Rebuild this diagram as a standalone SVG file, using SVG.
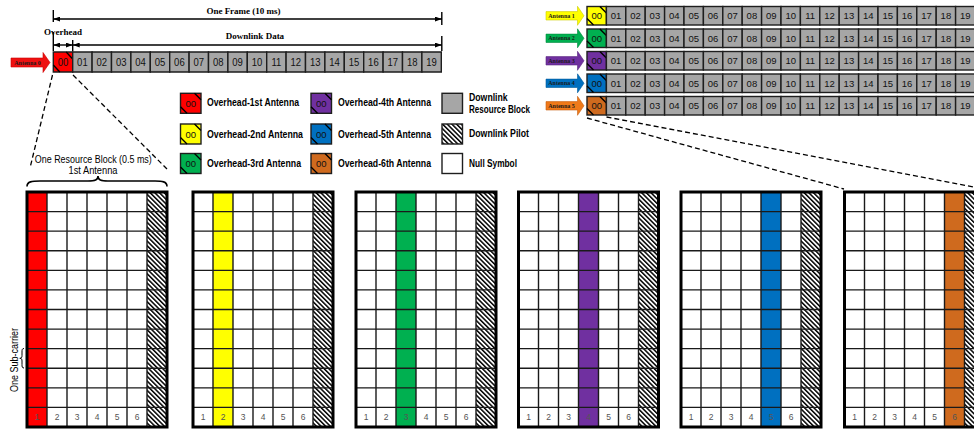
<svg xmlns="http://www.w3.org/2000/svg" xmlns:xlink="http://www.w3.org/1999/xlink" width="974" height="434" viewBox="0 0 974 434">
<style>
.cell{fill:#a6a6a6;stroke:#1e1e1e;stroke-width:1.4}
.ct{font-family:"Liberation Sans",Arial,sans-serif;font-size:9.5px;fill:#111;text-anchor:middle}
.tb{font-family:"Liberation Serif","Times New Roman",serif;font-weight:bold;fill:#000}
.at{font-family:"Liberation Serif","Times New Roman",serif;font-weight:bold;font-size:6px;fill:#1a1a1a;text-anchor:middle}
.lg{font-family:"Liberation Sans",Arial,sans-serif;font-weight:bold;font-size:10.2px;fill:#000}
.sn{font-family:"Liberation Sans",Arial,sans-serif;font-size:10.5px;fill:#000}
.num{font-family:"Liberation Sans",Arial,sans-serif;font-size:8.5px;fill:#555;text-anchor:middle}
.dash{stroke:#000;stroke-width:1.3;stroke-dasharray:5 3;fill:none}
.corner{stroke:#000;stroke-width:1.4;fill:none}
.dim{stroke:#000;stroke-width:1.4;fill:none}
.ohbox{stroke:#1e1e1e;stroke-width:1.4}
</style>
<defs>
<marker id="ah" viewBox="0 0 7 5" refX="7" refY="2.5" markerWidth="7" markerHeight="5" markerUnits="userSpaceOnUse" orient="auto-start-reverse"><path d="M0,0 L7,2.5 L0,5 Z" fill="#000"/></marker>
<pattern id="hatch" patternUnits="userSpaceOnUse" width="3.3" height="3.3" patternTransform="rotate(-45)"><rect width="3.3" height="3.3" fill="#fff"/><rect width="1.5" height="3.3" fill="#000"/></pattern>
<g id="cells">
<rect class="cell" x="19.4" y="0" width="19.4" height="18.5"/><rect class="cell" x="38.8" y="0" width="19.4" height="18.5"/><rect class="cell" x="58.2" y="0" width="19.4" height="18.5"/><rect class="cell" x="77.6" y="0" width="19.4" height="18.5"/><rect class="cell" x="97" y="0" width="19.4" height="18.5"/><rect class="cell" x="116.4" y="0" width="19.4" height="18.5"/><rect class="cell" x="135.8" y="0" width="19.4" height="18.5"/><rect class="cell" x="155.2" y="0" width="19.4" height="18.5"/><rect class="cell" x="174.6" y="0" width="19.4" height="18.5"/><rect class="cell" x="194" y="0" width="19.4" height="18.5"/><rect class="cell" x="213.4" y="0" width="19.4" height="18.5"/><rect class="cell" x="232.8" y="0" width="19.4" height="18.5"/><rect class="cell" x="252.2" y="0" width="19.4" height="18.5"/><rect class="cell" x="271.6" y="0" width="19.4" height="18.5"/><rect class="cell" x="291" y="0" width="19.4" height="18.5"/><rect class="cell" x="310.4" y="0" width="19.4" height="18.5"/><rect class="cell" x="329.8" y="0" width="19.4" height="18.5"/><rect class="cell" x="349.2" y="0" width="19.4" height="18.5"/><rect class="cell" x="368.6" y="0" width="19.4" height="18.5"/>
<text class="ct" x="29.1" y="12.7">01</text><text class="ct" x="48.5" y="12.7">02</text><text class="ct" x="67.9" y="12.7">03</text><text class="ct" x="87.3" y="12.7">04</text><text class="ct" x="106.7" y="12.7">05</text><text class="ct" x="126.1" y="12.7">06</text><text class="ct" x="145.5" y="12.7">07</text><text class="ct" x="164.9" y="12.7">08</text><text class="ct" x="184.3" y="12.7">09</text><text class="ct" x="203.7" y="12.7">10</text><text class="ct" x="223.1" y="12.7">11</text><text class="ct" x="242.5" y="12.7">12</text><text class="ct" x="261.9" y="12.7">13</text><text class="ct" x="281.3" y="12.7">14</text><text class="ct" x="300.7" y="12.7">15</text><text class="ct" x="320.1" y="12.7">16</text><text class="ct" x="339.5" y="12.7">17</text><text class="ct" x="358.9" y="12.7">18</text><text class="ct" x="378.3" y="12.7">19</text>
</g>
<g id="ohmark">
<path class="corner" d="M12.9,0 L19.4,6.5 M0,12 L6.5,18.5"/>
<text class="ct" x="9.7" y="12.7">00</text>
</g>
<g id="lgmark">
<path class="corner" d="M14,0 L20.5,6.5 M0,13.5 L6.5,20"/>
<text class="ct" x="10.25" y="13.5">00</text>
</g>
<g id="gridbg">
<rect width="140" height="235" fill="#fff"/>
<rect x="120" width="20" height="235" fill="url(#hatch)"/>
</g>
<g id="gridfg">
<path d="M0,19.58 H140 M0,39.17 H140 M0,58.75 H140 M0,78.33 H140 M0,97.92 H140 M0,117.5 H140 M0,137.08 H140 M0,156.67 H140 M0,176.25 H140 M0,195.83 H140 M0,215.42 H140 M20,0 V235 M40,0 V235 M60,0 V235 M80,0 V235 M100,0 V235 M120,0 V235" stroke="#1a1a1a" stroke-width="1.4" fill="none"/>
<text class="num" x="10" y="228.3">1</text><text class="num" x="30" y="228.3">2</text><text class="num" x="50" y="228.3">3</text><text class="num" x="70" y="228.3">4</text><text class="num" x="90" y="228.3">5</text><text class="num" x="110" y="228.3">6</text>
<rect width="140" height="235" fill="none" stroke="#000" stroke-width="3"/>
</g>
</defs>
<rect width="974" height="434" fill="#fff"/>

<!-- Frame dimension annotations -->
<g id="frame-dimensions">
<path class="dim" d="M53.3,10 V22 M53.3,32 V51 M72.7,40 V51 M441.8,12 V25 M441.8,36 V51"/>
<line class="dim" x1="53.3" y1="19" x2="441.8" y2="19" marker-start="url(#ah)" marker-end="url(#ah)"/>
<line class="dim" x1="53.3" y1="45" x2="72.7" y2="45" marker-start="url(#ah)" marker-end="url(#ah)"/>
<line class="dim" x1="72.7" y1="45" x2="441.8" y2="45" marker-start="url(#ah)" marker-end="url(#ah)"/>
<text class="tb" x="243.5" y="13.5" font-size="9" text-anchor="middle">One Frame (10 ms)</text>
<text class="tb" x="63" y="34.5" font-size="9" text-anchor="middle">Overhead</text>
<text class="tb" x="255" y="38.5" font-size="9" text-anchor="middle">Downlink Data</text>
</g>

<!-- Antenna 0 frame -->
<g id="antenna0">
<path d="M11,58 L43,58 L43,52.5 L50,62.5 L43,72.5 L43,67 L11,67 Z" fill="#ee1111" stroke="#c00" stroke-width="0.6"/>
<text class="at" x="27.5" y="64.5">Antenna 0</text>
<g transform="translate(53.3,52) scale(1,1.081)">
<rect class="ohbox" width="19.4" height="18.5" fill="#ff0000"/>
<use xlink:href="#ohmark"/>
<use xlink:href="#cells"/>
</g>
</g>

<!-- Antennas 1-5 frames -->
<g id="antenna1">
<path d="M546,11.6 H577.5 V6.3 L584,15.8 L577.5,25.3 V20 H546 Z" fill="#ffff00" stroke="#cc0" stroke-width="0.6"/>
<text class="at" x="561.5" y="17.8">Antenna 1</text>
<g transform="translate(587,6.5)"><rect class="ohbox" width="19.4" height="18.5" fill="#ffff00"/><use xlink:href="#ohmark"/><use xlink:href="#cells"/></g>
</g>
<g id="antenna2">
<path d="M546,34.1 H577.5 V28.8 L584,38.3 L577.5,47.8 V42.5 H546 Z" fill="#00b050" stroke="#008a3e" stroke-width="0.6"/>
<text class="at" x="561.5" y="40.3">Antenna 2</text>
<g transform="translate(587,29)"><rect class="ohbox" width="19.4" height="18.5" fill="#00b050"/><use xlink:href="#ohmark"/><use xlink:href="#cells"/></g>
</g>
<g id="antenna3">
<path d="M546,56.6 H577.5 V51.3 L584,60.8 L577.5,70.3 V65 H546 Z" fill="#7030a0" stroke="#5a2680" stroke-width="0.6"/>
<text class="at" x="561.5" y="62.8">Antenna 3</text>
<g transform="translate(587,51.5)"><rect class="ohbox" width="19.4" height="18.5" fill="#7030a0"/><use xlink:href="#ohmark"/><use xlink:href="#cells"/></g>
</g>
<g id="antenna4">
<path d="M546,79.1 H577.5 V73.8 L584,83.3 L577.5,92.8 V87.5 H546 Z" fill="#0070c0" stroke="#005a9a" stroke-width="0.6"/>
<text class="at" x="561.5" y="85.3">Antenna 4</text>
<g transform="translate(587,74)"><rect class="ohbox" width="19.4" height="18.5" fill="#0070c0"/><use xlink:href="#ohmark"/><use xlink:href="#cells"/></g>
</g>
<g id="antenna5">
<path d="M546,101.6 H577.5 V96.3 L584,105.8 L577.5,115.3 V110 H546 Z" fill="#ef7a1a" stroke="#c86010" stroke-width="0.6"/>
<text class="at" x="561.5" y="107.8">Antenna 5</text>
<g transform="translate(587,96.5)"><rect class="ohbox" width="19.4" height="18.5" fill="#cf6a1e"/><use xlink:href="#ohmark"/><use xlink:href="#cells"/></g>
</g>

<!-- Legend -->
<g id="legend">
<g transform="translate(180.5,93.3)"><rect class="ohbox" width="20.5" height="20" fill="#ff0000"/><use xlink:href="#lgmark"/></g>
<text class="lg" x="207" y="106" textLength="92" lengthAdjust="spacingAndGlyphs">Overhead-1st Antenna</text>
<g transform="translate(180.5,124)"><rect class="ohbox" width="20.5" height="20" fill="#ffff00"/><use xlink:href="#lgmark"/></g>
<text class="lg" x="207" y="137.5" textLength="96" lengthAdjust="spacingAndGlyphs">Overhead-2nd Antenna</text>
<g transform="translate(180.5,153.5)"><rect class="ohbox" width="20.5" height="20" fill="#00b050"/><use xlink:href="#lgmark"/></g>
<text class="lg" x="207" y="167.3" textLength="94" lengthAdjust="spacingAndGlyphs">Overhead-3rd Antenna</text>
<g transform="translate(311,93.3)"><rect class="ohbox" width="20.5" height="20" fill="#7030a0"/><use xlink:href="#lgmark"/></g>
<text class="lg" x="338" y="106" textLength="93" lengthAdjust="spacingAndGlyphs">Overhead-4th Antenna</text>
<g transform="translate(311,124)"><rect class="ohbox" width="20.5" height="20" fill="#0070c0"/><use xlink:href="#lgmark"/></g>
<text class="lg" x="338" y="137.5" textLength="93" lengthAdjust="spacingAndGlyphs">Overhead-5th Antenna</text>
<g transform="translate(311,153.5)"><rect class="ohbox" width="20.5" height="20" fill="#cf6a1e"/><use xlink:href="#lgmark"/></g>
<text class="lg" x="338" y="167.3" textLength="93" lengthAdjust="spacingAndGlyphs">Overhead-6th Antenna</text>
<rect x="442" y="93.3" width="20.5" height="20" fill="#a6a6a6" stroke="#1e1e1e" stroke-width="1.4"/>
<text class="lg" x="469" y="101" textLength="38.7" lengthAdjust="spacingAndGlyphs">Downlink</text>
<text class="lg" x="469" y="112.5" textLength="61" lengthAdjust="spacingAndGlyphs">Resource Block</text>
<rect x="442" y="124" width="20.5" height="20" fill="url(#hatch)" stroke="#1e1e1e" stroke-width="1.4"/>
<text class="lg" x="469" y="137.3" textLength="60" lengthAdjust="spacingAndGlyphs">Downlink Pilot</text>
<rect x="442" y="153.5" width="20.5" height="20" fill="#fff" stroke="#1e1e1e" stroke-width="1.4"/>
<text class="lg" x="469" y="166.5" textLength="48" lengthAdjust="spacingAndGlyphs">Null Symbol</text>
</g>

<!-- Resource block annotations -->
<g id="rb-label">
<text class="sn" x="93.3" y="163" text-anchor="middle" textLength="117" lengthAdjust="spacingAndGlyphs">One Resource Block (0.5 ms)</text>
<text class="sn" x="93" y="173.5" text-anchor="middle" textLength="49" lengthAdjust="spacingAndGlyphs">1st Antenna</text>
<path d="M27,186.5 C27,181.5 32,181 40,181 L88,181 C95,181 98,180 98,176 C98,180 101,181 108,181 L155,181 C162,181 167,181.5 167,186.5" fill="none" stroke="#000" stroke-width="1.6"/>
<text class="sn" transform="translate(17.5,360) rotate(-90)" text-anchor="middle" textLength="64" lengthAdjust="spacingAndGlyphs">One Sub-carrier</text>
<path d="M24,348.5 C22,348.5 22,350 22,352 L22,355.5 C22,357.5 21.5,358.3 19.8,358.3 C21.5,358.3 22,359 22,361 L22,364.5 C22,366.5 22,368 24,368" fill="none" stroke="#000" stroke-width="1"/>
</g>

<!-- Resource blocks -->
<g id="block1" transform="translate(27,192)">
<use xlink:href="#gridbg"/><rect x="0" width="20" height="235" fill="#ff0000"/><use xlink:href="#gridfg"/>
</g>
<g id="block2" transform="translate(193,192)">
<use xlink:href="#gridbg"/><rect x="20" width="20" height="235" fill="#ffff00"/><use xlink:href="#gridfg"/>
</g>
<g id="block3" transform="translate(356,192)">
<use xlink:href="#gridbg"/><rect x="40" width="20" height="235" fill="#00b050"/><use xlink:href="#gridfg"/>
</g>
<g id="block4" transform="translate(518.5,192)">
<use xlink:href="#gridbg"/><rect x="60" width="20" height="235" fill="#7030a0"/><use xlink:href="#gridfg"/>
</g>
<g id="block5" transform="translate(681,192)">
<use xlink:href="#gridbg"/><rect x="80" width="20" height="235" fill="#0070c0"/><use xlink:href="#gridfg"/>
</g>
<g id="block6" transform="translate(844.5,192)">
<use xlink:href="#gridbg"/><rect x="100" width="20" height="235" fill="#cf6a1e"/><use xlink:href="#gridfg"/>
</g>

<!-- Connectors -->
<g id="connectors">
<line class="dash" x1="52.5" y1="75" x2="30" y2="168"/>
<line class="dash" x1="73" y1="75" x2="167" y2="169"/>
<line class="dash" x1="587" y1="118" x2="844" y2="189"/>
<line class="dash" x1="606.5" y1="117" x2="984" y2="189"/>
</g>
</svg>
